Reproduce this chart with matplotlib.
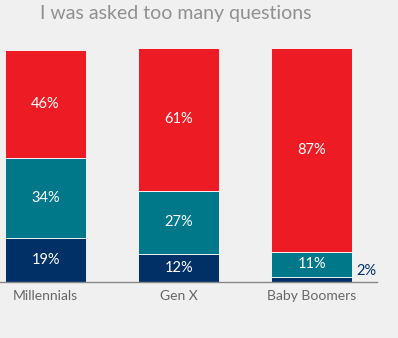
import matplotlib
matplotlib.use('Agg')
import matplotlib.pyplot as plt

categories = ['Millennials', 'Gen X', 'Baby Boomers']
bottom_vals = [19, 12, 2]
middle_vals = [34, 27, 11]
top_vals = [46, 61, 87]

red = '#ed1c24'
teal = '#00788a'
navy = '#003066'
bg = '#f0f0f0'

plt.rcParams['font.family'] = ['Lato', 'DejaVu Sans']

fig = plt.figure(figsize=(3.98, 3.38), dpi=100, facecolor=bg)
ax = fig.add_axes([0, 56 / 338, 377 / 398, 234 / 338], facecolor=bg)

x = range(len(categories))
w = 0.61
mid_bottom = [b for b in bottom_vals]
top_bottom = [b + m for b, m in zip(bottom_vals, middle_vals)]

ax.bar(x, bottom_vals, w, color=navy, edgecolor='white', linewidth=0.6)
ax.bar(x, middle_vals, w, bottom=mid_bottom, color=teal, edgecolor='white', linewidth=0.6)
ax.bar(x, top_vals, w, bottom=top_bottom, color=red, edgecolor='white', linewidth=0.6)

for i in x:
    segs = [(bottom_vals[i], 0), (middle_vals[i], mid_bottom[i]), (top_vals[i], top_bottom[i])]
    for v, b in segs:
        if v >= 5:
            ax.text(i, b + v / 2, '%d%%' % v, ha='center', va='center',
                    color='white', fontsize=10.5)
        else:
            ax.text(i + w / 2 + 0.03, b + v / 2 + 3.5, '%d%%' % v, ha='left', va='center',
                    color=navy, fontsize=10.5)

ax.set_xlim(-0.342, 2.49)
ax.set_ylim(0, 100)
ax.set_xticks(list(x))
ax.set_xticklabels(categories, color='#666666', fontsize=10)
ax.tick_params(axis='x', length=0, pad=6)
ax.set_yticks([])
for s in ['top', 'right', 'left']:
    ax.spines[s].set_visible(False)
ax.spines['bottom'].set_color('#888888')
ax.spines['bottom'].set_linewidth(1)

fig.text(176 / 398, 1 - 13 / 338, 'I was asked too many questions', ha='center', va='center',
         color='#909090', fontsize=14)

fig.savefig('out.png', dpi=100, facecolor=bg)
